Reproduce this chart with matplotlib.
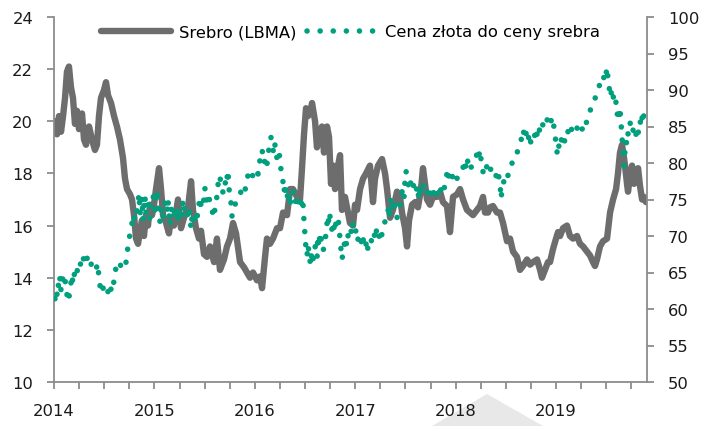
import numpy as np
import matplotlib
matplotlib.use("Agg")
import matplotlib.pyplot as plt
from matplotlib.patches import Polygon
from matplotlib.ticker import FixedLocator, MultipleLocator

plt.rcParams['font.family'] = ['DejaVu Sans']

# silver price, LBMA (USD/oz)
silver_t = [2014.010, 2014.030, 2014.050, 2014.070, 2014.090, 2014.110, 2014.129, 2014.149, 2014.169, 2014.189,
            2014.209, 2014.229, 2014.249, 2014.279, 2014.299, 2014.319, 2014.349, 2014.378, 2014.408, 2014.428,
            2014.448, 2014.468, 2014.498, 2014.518, 2014.538, 2014.568, 2014.598, 2014.627, 2014.657, 2014.687,
            2014.707, 2014.727, 2014.757, 2014.777, 2014.797, 2014.817, 2014.837, 2014.857, 2014.876, 2014.896,
            2014.916, 2014.936, 2014.956, 2014.976, 2014.996, 2015.016, 2015.046, 2015.066, 2015.086, 2015.116,
            2015.145, 2015.165, 2015.195, 2015.235, 2015.265, 2015.295, 2015.335, 2015.365, 2015.384, 2015.414,
            2015.444, 2015.464, 2015.494, 2015.524, 2015.554, 2015.594, 2015.623, 2015.653, 2015.693, 2015.723,
            2015.753, 2015.783, 2015.813, 2015.853, 2015.892, 2015.922, 2015.952, 2015.982, 2016.022, 2016.052,
            2016.072, 2016.102, 2016.121, 2016.151, 2016.181, 2016.221, 2016.251, 2016.281, 2016.321, 2016.351,
            2016.380, 2016.420, 2016.450, 2016.470, 2016.490, 2016.510, 2016.530, 2016.550, 2016.570, 2016.600,
            2016.619, 2016.649, 2016.669, 2016.689, 2016.719, 2016.739, 2016.759, 2016.779, 2016.799, 2016.829,
            2016.849, 2016.868, 2016.898, 2016.928, 2016.948, 2016.978, 2016.998, 2017.018, 2017.048, 2017.078,
            2017.108, 2017.147, 2017.177, 2017.197, 2017.227, 2017.267, 2017.297, 2017.317, 2017.347, 2017.376,
            2017.416, 2017.446, 2017.466, 2017.496, 2017.516, 2017.536, 2017.566, 2017.596, 2017.625, 2017.655,
            2017.675, 2017.695, 2017.715, 2017.745, 2017.775, 2017.815, 2017.845, 2017.874, 2017.914, 2017.944,
            2017.974, 2018.014, 2018.044, 2018.074, 2018.113, 2018.143, 2018.173, 2018.213, 2018.243, 2018.273,
            2018.293, 2018.323, 2018.343, 2018.372, 2018.412, 2018.442, 2018.472, 2018.512, 2018.542, 2018.572,
            2018.611, 2018.641, 2018.671, 2018.711, 2018.741, 2018.771, 2018.811, 2018.841, 2018.860, 2018.890,
            2018.920, 2018.940, 2018.970, 2019.000, 2019.020, 2019.040, 2019.070, 2019.109, 2019.139, 2019.169,
            2019.209, 2019.239, 2019.269, 2019.309, 2019.339, 2019.368, 2019.388, 2019.408, 2019.438, 2019.468,
            2019.508, 2019.538, 2019.568, 2019.598, 2019.617, 2019.637, 2019.657, 2019.677, 2019.687, 2019.707,
            2019.717, 2019.737, 2019.757, 2019.777, 2019.797, 2019.817, 2019.837, 2019.857, 2019.876, 2019.896]
silver = [20.0, 19.5, 20.2, 19.6, 20.2, 20.9, 21.9, 22.1, 21.3, 20.9,
          19.9, 20.4, 19.7, 20.3, 19.3, 19.1, 19.8, 19.3, 18.9, 19.1,
          20.2, 20.9, 21.2, 21.5, 21.0, 20.7, 20.2, 19.8, 19.3, 18.6,
          17.8, 17.4, 17.2, 17.0, 16.4, 15.5, 15.3, 15.8, 16.2, 15.6,
          16.4, 16.0, 16.8, 16.4, 16.8, 17.4, 18.2, 17.4, 16.4, 16.1,
          15.7, 16.3, 16.0, 17.0, 15.9, 16.3, 16.7, 17.7, 16.6, 15.9,
          15.5, 15.8, 14.9, 14.8, 15.2, 14.6, 15.5, 14.3, 14.7, 15.2,
          15.5, 16.1, 15.7, 14.6, 14.4, 14.2, 14.0, 14.2, 13.9, 14.05,
          13.6, 14.8, 15.5, 15.3, 15.5, 15.9, 15.9, 16.5, 16.4, 17.4,
          17.4, 17.1, 17.0, 18.2, 19.5, 20.5, 20.2, 20.3, 20.7, 20.0,
          19.0, 19.6, 19.8, 18.8, 19.8, 19.4, 17.6, 18.3, 17.4, 18.3,
          18.7, 16.6, 17.1, 16.5, 16.1, 16.0, 16.8, 16.6, 17.4, 17.8,
          18.0, 18.3, 16.9, 17.8, 18.3, 18.55, 18.0, 17.4, 16.3, 16.6,
          17.3, 17.1, 16.5, 15.9, 15.2, 16.2, 16.8, 16.9, 16.7, 17.4,
          18.2, 17.6, 17.0, 16.8, 17.1, 17.1, 17.3, 16.9, 16.75, 15.75,
          17.1, 17.2, 17.4, 17.0, 16.6, 16.5, 16.4, 16.6, 16.75, 17.1,
          16.5, 16.5, 16.7, 16.75, 16.5, 16.5, 16.1, 15.4, 15.5, 15.0,
          14.8, 14.3, 14.45, 14.7, 14.5, 14.6, 14.7, 14.3, 14.0, 14.3,
          14.6, 14.6, 15.1, 15.5, 15.75, 15.6, 15.9, 16.0, 15.6, 15.5,
          15.6, 15.3, 15.2, 15.0, 14.85, 14.6, 14.45, 14.7, 15.2, 15.4,
          15.5, 16.5, 17.0, 17.4, 18.0, 18.8, 19.1, 18.6, 18.3, 17.6,
          17.3, 17.9, 18.3, 17.6, 17.8, 18.2, 17.5, 17.0, 17.1, 16.9]

# gold / silver price ratio - (date, value)
ratio_pts = [
    (2014.010, 61.4), (2014.020, 62.6), (2014.030, 62.0), (2014.040, 63.5), (2014.050, 62.8), (2014.060, 64.3),
    (2014.070, 62.5), (2014.080, 63.2), (2014.090, 64.6), (2014.100, 63.8), (2014.110, 64.0), (2014.120, 62.8),
    (2014.129, 62.0), (2014.139, 61.0), (2014.149, 61.5), (2014.159, 62.8), (2014.169, 63.6), (2014.179, 62.9),
    (2014.189, 64.8), (2014.199, 64.3), (2014.209, 65.6), (2014.229, 65.0), (2014.239, 66.0), (2014.259, 65.6),
    (2014.269, 66.8), (2014.289, 66.3), (2014.299, 67.6), (2014.309, 66.9), (2014.329, 67.0), (2014.339, 66.4),
    (2014.359, 66.8), (2014.369, 66.1), (2014.388, 66.6), (2014.398, 66.2), (2014.418, 66.3), (2014.428, 65.5),
    (2014.438, 66.0), (2014.448, 64.2), (2014.458, 63.2), (2014.468, 62.6), (2014.478, 63.3), (2014.498, 62.5),
    (2014.518, 62.9), (2014.528, 62.2), (2014.548, 62.6), (2014.558, 61.9), (2014.568, 62.8), (2014.578, 63.3),
    (2014.588, 62.9), (2014.598, 64.0), (2014.608, 64.8), (2014.618, 65.8), (2014.637, 65.6), (2014.647, 66.3),
    (2014.667, 65.9), (2014.677, 66.4), (2014.697, 66.1), (2014.707, 66.6), (2014.717, 66.4), (2014.727, 67.6),
    (2014.737, 68.6), (2014.747, 69.5), (2014.757, 70.3), (2014.767, 70.8), (2014.777, 71.8), (2014.787, 72.5),
    (2014.797, 72.0), (2014.807, 73.0), (2014.817, 72.6), (2014.827, 73.5), (2014.847, 75.8), (2014.857, 73.0),
    (2014.876, 75.3), (2014.886, 72.2), (2014.906, 75.5), (2014.916, 73.2), (2014.936, 74.6), (2014.956, 72.4),
    (2014.966, 74.8), (2014.986, 75.6), (2015.006, 73.5), (2015.026, 76.3), (2015.036, 74.0), (2015.056, 71.9),
    (2015.066, 73.8), (2015.086, 72.5), (2015.106, 74.5), (2015.125, 73.2), (2015.135, 75.0), (2015.155, 71.4),
    (2015.165, 73.5), (2015.185, 74.2), (2015.205, 72.3), (2015.225, 73.8), (2015.235, 72.0), (2015.255, 74.0),
    (2015.275, 72.8), (2015.285, 75.0), (2015.305, 73.0), (2015.325, 72.5), (2015.345, 74.0), (2015.365, 71.0),
    (2015.374, 72.5), (2015.394, 71.6), (2015.404, 73.0), (2015.424, 72.4), (2015.444, 74.5), (2015.454, 73.5),
    (2015.474, 75.5), (2015.494, 74.8), (2015.504, 76.6), (2015.524, 74.6), (2015.544, 75.5), (2015.554, 74.2),
    (2015.574, 73.5), (2015.594, 72.5), (2015.604, 74.0), (2015.624, 75.5), (2015.633, 77.0), (2015.653, 78.3),
    (2015.663, 76.6), (2015.683, 76.0), (2015.703, 77.5), (2015.713, 76.8), (2015.733, 79.0), (2015.743, 76.5),
    (2015.763, 74.5), (2015.773, 72.7), (2015.793, 73.5), (2015.803, 74.3), (2015.823, 75.0), (2015.853, 75.6),
    (2015.873, 76.8), (2015.902, 76.2), (2015.922, 77.8), (2015.932, 78.3), (2015.952, 77.5), (2015.982, 78.4),
    (2016.002, 79.2), (2016.032, 78.5), (2016.052, 80.5), (2016.072, 81.8), (2016.092, 80.0), (2016.112, 80.8),
    (2016.121, 79.8), (2016.141, 82.0), (2016.161, 83.5), (2016.171, 82.5), (2016.191, 81.2), (2016.201, 82.5),
    (2016.221, 80.6), (2016.231, 81.6), (2016.251, 80.8), (2016.261, 79.0), (2016.281, 77.4), (2016.291, 76.0),
    (2016.301, 77.2), (2016.321, 75.0), (2016.331, 76.3), (2016.351, 74.1), (2016.361, 75.8), (2016.380, 76.2),
    (2016.400, 74.5), (2016.420, 75.6), (2016.430, 74.6), (2016.450, 75.4), (2016.470, 73.8), (2016.480, 74.5),
    (2016.490, 72.0), (2016.500, 70.0), (2016.510, 68.2), (2016.520, 67.3), (2016.530, 68.8), (2016.550, 66.5),
    (2016.560, 67.8), (2016.570, 66.2), (2016.590, 67.5), (2016.600, 68.6), (2016.620, 67.0), (2016.629, 70.0),
    (2016.639, 68.5), (2016.649, 70.5), (2016.669, 69.0), (2016.679, 68.0), (2016.699, 68.8), (2016.709, 70.6),
    (2016.729, 72.8), (2016.739, 71.5), (2016.749, 72.7), (2016.769, 70.8), (2016.779, 71.8), (2016.799, 70.5),
    (2016.809, 72.0), (2016.829, 72.6), (2016.839, 71.0), (2016.849, 69.6), (2016.859, 68.0), (2016.868, 66.8),
    (2016.888, 68.4), (2016.898, 69.8), (2016.918, 68.6), (2016.928, 70.0), (2016.948, 71.2), (2016.968, 70.2),
    (2016.978, 71.8), (2016.998, 70.5), (2017.018, 71.0), (2017.028, 69.5), (2017.048, 70.2), (2017.068, 68.6),
    (2017.078, 69.6), (2017.098, 68.3), (2017.118, 69.5), (2017.127, 68.0), (2017.147, 68.4), (2017.167, 69.8),
    (2017.187, 70.6), (2017.197, 69.5), (2017.217, 71.2), (2017.237, 70.0), (2017.247, 69.2), (2017.267, 70.3),
    (2017.287, 71.5), (2017.307, 72.5), (2017.327, 73.6), (2017.337, 72.4), (2017.357, 75.3), (2017.366, 74.0),
    (2017.386, 73.2), (2017.396, 74.2), (2017.416, 72.5), (2017.426, 73.0), (2017.446, 74.0), (2017.456, 75.6),
    (2017.476, 76.5), (2017.486, 75.3), (2017.496, 77.6), (2017.506, 78.9), (2017.516, 78.0), (2017.536, 76.6),
    (2017.546, 77.6), (2017.566, 76.5), (2017.576, 77.2), (2017.596, 75.8), (2017.615, 76.6), (2017.625, 75.3),
    (2017.645, 76.8), (2017.655, 75.8), (2017.675, 77.0), (2017.695, 76.0), (2017.715, 76.4), (2017.725, 75.2),
    (2017.745, 76.0), (2017.765, 75.4), (2017.775, 76.3), (2017.795, 75.0), (2017.815, 75.8), (2017.835, 75.2),
    (2017.855, 76.5), (2017.874, 75.8), (2017.894, 77.0), (2017.914, 78.6), (2017.924, 79.2), (2017.934, 78.0),
    (2017.954, 77.6), (2017.964, 78.4), (2017.984, 77.2), (2018.004, 77.8), (2018.044, 78.2), (2018.064, 79.0),
    (2018.084, 79.8), (2018.094, 79.0), (2018.113, 80.8), (2018.123, 80.0), (2018.143, 80.4), (2018.153, 79.4),
    (2018.173, 79.8), (2018.193, 80.6), (2018.213, 81.2), (2018.223, 80.4), (2018.243, 81.8), (2018.253, 80.5),
    (2018.273, 78.8), (2018.283, 79.8), (2018.303, 79.3), (2018.323, 79.9), (2018.333, 78.9), (2018.353, 79.2),
    (2018.372, 78.5), (2018.392, 78.8), (2018.412, 77.8), (2018.422, 78.6), (2018.442, 77.4), (2018.452, 75.1),
    (2018.462, 76.2), (2018.472, 77.0), (2018.492, 78.2), (2018.512, 77.8), (2018.532, 78.9), (2018.552, 79.3),
    (2018.562, 80.0), (2018.582, 80.2), (2018.592, 80.9), (2018.612, 81.3), (2018.621, 82.0), (2018.641, 82.6),
    (2018.661, 83.6), (2018.671, 84.6), (2018.681, 84.0), (2018.691, 84.8), (2018.711, 83.4), (2018.721, 84.0),
    (2018.741, 82.3), (2018.751, 83.2), (2018.771, 82.8), (2018.791, 84.0), (2018.801, 83.2), (2018.821, 84.8),
    (2018.831, 84.2), (2018.841, 85.0), (2018.860, 84.5), (2018.870, 85.4), (2018.890, 85.0), (2018.910, 86.0),
    (2018.920, 85.4), (2018.940, 86.2), (2018.960, 85.5), (2018.970, 86.0), (2018.980, 84.8), (2018.990, 84.0),
    (2019.000, 82.5), (2019.010, 81.5), (2019.020, 82.8), (2019.030, 82.2), (2019.040, 83.5), (2019.060, 83.0),
    (2019.070, 83.8), (2019.090, 82.8), (2019.109, 83.5), (2019.119, 84.3), (2019.139, 83.6), (2019.149, 84.5),
    (2019.169, 84.9), (2019.189, 84.2), (2019.209, 84.8), (2019.219, 84.3), (2019.239, 85.0), (2019.259, 84.6),
    (2019.279, 85.4), (2019.289, 85.0), (2019.309, 85.8), (2019.319, 86.4), (2019.339, 87.2), (2019.358, 87.6),
    (2019.368, 88.3), (2019.388, 88.8), (2019.408, 89.8), (2019.418, 90.2), (2019.438, 90.8), (2019.448, 91.3),
    (2019.468, 92.0), (2019.478, 91.6), (2019.488, 92.6), (2019.498, 92.2), (2019.508, 93.1), (2019.518, 91.5),
    (2019.528, 90.6), (2019.538, 89.2), (2019.548, 89.8), (2019.558, 88.6), (2019.568, 89.2), (2019.588, 87.8),
    (2019.598, 88.4), (2019.607, 87.2), (2019.617, 85.8), (2019.627, 86.6), (2019.637, 87.6), (2019.647, 85.5),
    (2019.657, 83.7), (2019.667, 81.2), (2019.677, 79.6), (2019.687, 81.8), (2019.697, 83.0), (2019.707, 82.5),
    (2019.717, 84.0), (2019.737, 85.6), (2019.747, 84.6), (2019.757, 85.0), (2019.777, 84.0), (2019.787, 84.6),
    (2019.807, 83.2), (2019.817, 84.0), (2019.837, 85.8), (2019.847, 85.0), (2019.866, 87.2), (2019.876, 86.2),
    (2019.886, 85.5), (2019.906, 85.6),
]
ratio_t = [p[0] for p in ratio_pts]
ratio = [p[1] for p in ratio_pts]

years = [2014, 2015, 2016, 2017, 2018, 2019]
left_ticks = [10, 12, 14, 16, 18, 20, 22, 24]
right_ticks = [50, 55, 60, 65, 70, 75, 80, 85, 90, 95, 100]

GREY = '#6d6d6d'
TEAL = '#00a07f'
AXIS = '#8c8c8c'
FS = 11.8

fig = plt.figure(figsize=(7.17, 4.27), dpi=100)
ax = fig.add_axes([54 / 717, 44 / 427, 593 / 717, 365 / 427])
ax2 = ax.twinx()

ax.plot(silver_t, silver, color=GREY, lw=4.6, solid_joinstyle='round', solid_capstyle='round',
        label='Srebro (LBMA)')
ax2.plot(ratio_t, ratio, color=TEAL, lw=4.0, linestyle=(0, (0.01, 2.35)), dash_capstyle='round',
         label='Cena złota do ceny srebra')

ax.set_xlim(2014.0, 2019.906)
ax.set_ylim(10, 24)
ax2.set_ylim(50, 100)
ax.set_yticks(left_ticks)
ax2.set_yticks(right_ticks)
ax.xaxis.set_major_locator(FixedLocator(years))
ax.xaxis.set_minor_locator(MultipleLocator(0.25))
ax.set_xticklabels([str(y) for y in years])

for a in (ax, ax2):
    for s in a.spines.values():
        s.set_visible(False)
    a.tick_params(colors=AXIS, labelcolor='#1a1a1a', labelsize=FS, width=1.3, length=5)
ax.spines['left'].set_visible(True)
ax.spines['bottom'].set_visible(True)
ax2.spines['right'].set_visible(True)
for s in (ax.spines['left'], ax.spines['bottom'], ax2.spines['right']):
    s.set_color(AXIS)
    s.set_linewidth(1.3)
ax.tick_params(axis='y', pad=10)
ax2.tick_params(axis='y', pad=10)
ax.tick_params(axis='x', which='both', pad=10, length=5, width=1.3, colors=AXIS, labelcolor='#1a1a1a')

h1, l1 = ax.get_legend_handles_labels()
h2, l2 = ax2.get_legend_handles_labels()
ax2.legend(h1 + h2, l1 + l2, loc='upper center', bbox_to_anchor=(0.5, 1.02), ncol=2, frameon=False,
           fontsize=FS, handlelength=4.3, handletextpad=0.5, columnspacing=0.6)

# light grey triangle at the bottom edge, behind everything
fig.patches.append(Polygon([[432 / 717, 0], [487 / 717, 32 / 427], [543 / 717, 0]], closed=True,
                           transform=fig.transFigure, facecolor='#e8e8e8', edgecolor='none', zorder=-5))

fig.savefig('out.png', dpi=100)
